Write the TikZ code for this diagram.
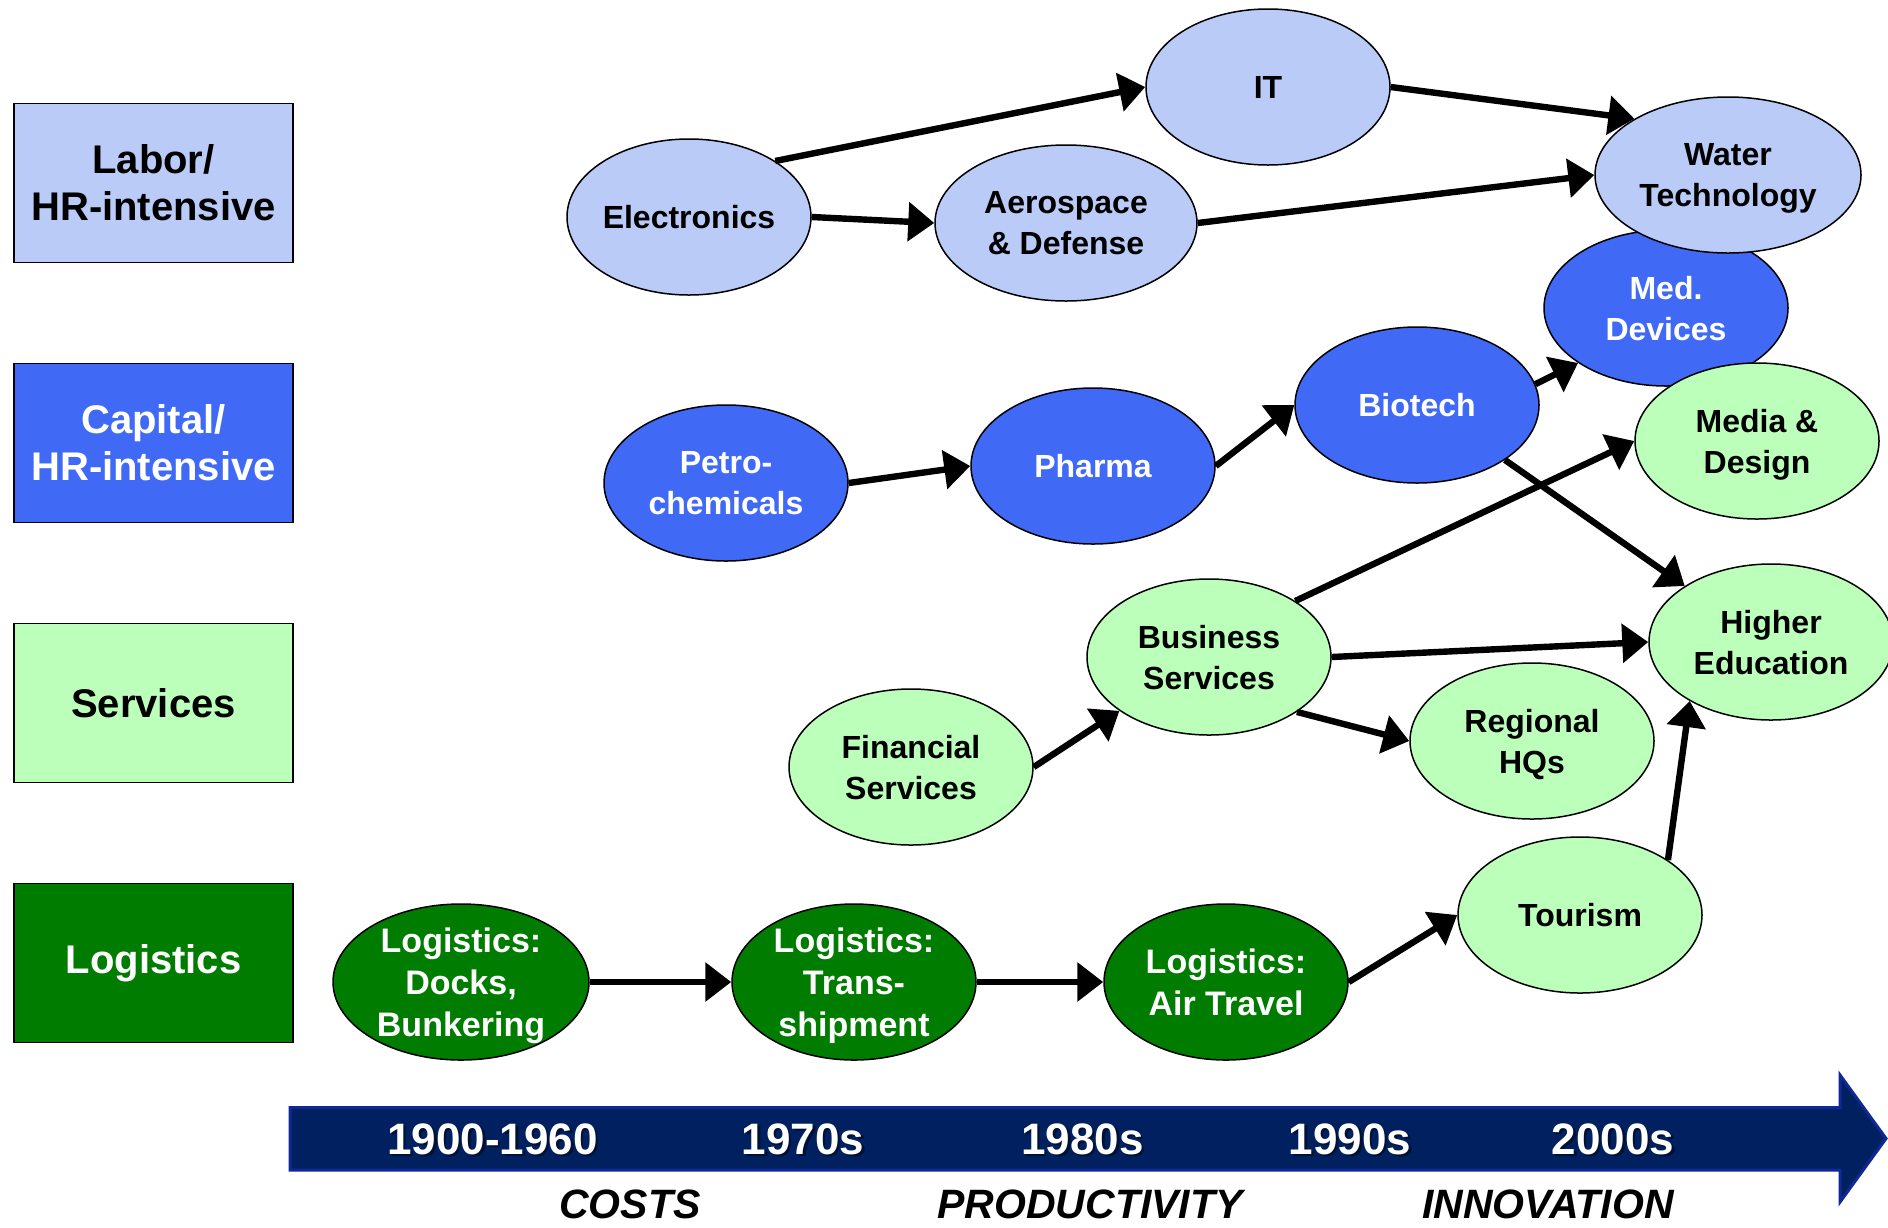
\documentclass[tikz,border=0pt]{standalone}
\usepackage{fontspec}
\setmainfont{Liberation Sans}
\usetikzlibrary{shapes.geometric,arrows.meta}
\definecolor{lblue}{RGB}{185,203,246}
\definecolor{mblue}{RGB}{64,106,246}
\definecolor{lgreen}{RGB}{187,255,187}
\definecolor{dgreen}{RGB}{0,125,0}
\definecolor{navy}{RGB}{0,32,96}
\definecolor{navyedge}{RGB}{16,40,150}
\begin{document}
\begin{tikzpicture}[x=0.5pt,y=-0.5pt,
  cat/.style={draw=black, line width=0.8pt, minimum width=139.5pt, minimum height=79.5pt, inner sep=0pt, font=\bfseries\fontsize{20pt}{23.5pt}\selectfont, align=center},
  el/.style={ellipse, draw=black, line width=0.75pt, minimum width=122pt, minimum height=78pt, inner sep=0pt},
  eltxt/.style={font=\bfseries\fontsize{16pt}{20.5pt}\selectfont, align=center, inner sep=0pt, text depth=0pt},
  logtxt/.style={eltxt, font=\bfseries\fontsize{17pt}{21pt}\selectfont, text=white},
  link/.style={line width=3.2pt, -{Triangle[length=13pt,width=19pt]}},
  year/.style={font=\bfseries\fontsize{22pt}{22pt}\selectfont, text=white, inner sep=0pt},
  yshadow/.style={font=\bfseries\fontsize{22pt}{22pt}\selectfont, text=black, opacity=0.45, inner sep=0pt},
  era/.style={font=\bfseries\itshape\fontsize{20.5pt}{20.5pt}\selectfont, inner sep=0pt}
]
\useasboundingbox (0,0) rectangle (1888,1227);

% category boxes
\node[cat, fill=lblue, text=black] (labor) at (153.5,183) {Labor/\\HR-intensive};
\node[cat, fill=mblue, text=white] (capital) at (153.5,443) {Capital/\\HR-intensive};
\node[cat, fill=lgreen, text=black] (services) at (153.5,703) {Services};
\node[cat, fill=dgreen, text=white] (logistics) at (153.5,963) {Logistics};

% timeline arrow
\draw[fill=navy, draw=navyedge, line width=1.5pt, line join=miter]
  (290,1107.5) -- (1840,1107.5) -- (1840,1075) -- (1886,1138.5) -- (1840,1202) -- (1840,1170) -- (290,1170) -- cycle;

\node[yshadow] (y1s) at (495,1141.5) {1900-1960};
\node[year] (y1) at (492.5,1139) {1900-1960};
\node[yshadow] (y2s) at (805.5,1141.5) {1970s};
\node[year] (y2) at (803,1139) {1970s};
\node[yshadow] (y3s) at (1085,1141.5) {1980s};
\node[year] (y3) at (1082.5,1139) {1980s};
\node[yshadow] (y4s) at (1352.5,1141.5) {1990s};
\node[year] (y4) at (1350,1139) {1990s};
\node[yshadow] (y5s) at (1615.5,1141.5) {2000s};
\node[year] (y5) at (1613,1139) {2000s};

\node[era] (costs) at (630,1204) {COSTS};
\node[era] (prod) at (1090,1204) {PRODUCTIVITY};
\node[era] (innov) at (1548,1204) {INNOVATION};

% ellipses
\node[el, fill=lblue] (it) at (1268,87) {};
\node[eltxt] (itt) at (it) {IT};
\node[el, fill=lblue] (elec) at (689,217) {};
\node[eltxt] (elect) at (elec) {Electronics};
\node[el, fill=lblue, minimum width=131pt] (aero) at (1066,223) {};
\node[eltxt] (aerot) at (aero) {Aerospace\\\& Defense};
\node[el, fill=mblue] (med) at (1666,308) {};
\node[eltxt, text=white] (medt) at (med) {Med.\\Devices};
\node[el, fill=lblue, minimum width=133pt] (water) at (1728,175) {};
\node[eltxt] (watert) at (water) {Water\\Technology};
\node[el, fill=mblue] (biotech) at (1417,405) {};
\node[eltxt, text=white] (biotecht) at (biotech) {Biotech};
\node[el, fill=mblue] (petro) at (726,483) {};
\node[eltxt, text=white] (petrot) at (petro) {Petro-\\chemicals};
\node[el, fill=mblue] (pharma) at (1093,466) {};
\node[eltxt, text=white] (pharmat) at (pharma) {Pharma};
\node[el, fill=lgreen] (media) at (1757,441) {};
\node[eltxt] (mediat) at (media) {Media \&\\Design};
\node[el, fill=lgreen] (highed) at (1771,642) {};
\node[eltxt] (highedt) at (highed) {Higher\\Education};
\node[el, fill=lgreen] (bus) at (1209,657) {};
\node[eltxt] (bust) at (bus) {Business\\Services};
\node[el, fill=lgreen] (reg) at (1532,741) {};
\node[eltxt] (regt) at (reg) {Regional\\HQs};
\node[el, fill=lgreen] (fin) at (911,767) {};
\node[eltxt] (fint) at (fin) {Financial\\Services};
\node[el, fill=lgreen] (tour) at (1580,915) {};
\node[eltxt] (tourt) at (tour) {Tourism};
\node[el, fill=dgreen, minimum width=128pt] (docks) at (461,982) {};
\node[logtxt] (dockst) at (docks) {Logistics:\\Docks,\\Bunkering};
\node[el, fill=dgreen] (trans) at (854,982) {};
\node[logtxt] (transt) at (trans) {Logistics:\\Trans-\\shipment};
\node[el, fill=dgreen] (air) at (1226,982) {};
\node[logtxt] (airt) at (air) {Logistics:\\Air Travel};

% connectors
\draw[link] (elec.33) -- (it.180);
\draw[link] (elec.0) -- (aero.180);
\draw[link] (it.0) -- (water.149);
\draw[link] (aero.0) -- (water.180);
\draw[link] (petro.0) -- (pharma.180);
\draw[link] (pharma.0) -- (biotech.180);
\draw[link] (biotech.10) -- (med.212);
\draw[link] (biotech.328) -- (highed.147);
\draw[link] (bus.33) -- (media.180);
\draw[link] (bus.0) -- (highed.180);
\draw[link] (bus.328) -- (reg.180);
\draw[link] (fin.0) -- (bus.211);
\draw[link] (tour.32) -- (highed.216);
\draw[link] (air.0) -- (tour.180);
\draw[link] (docks.0) -- (trans.180);
\draw[link] (trans.0) -- (air.180);
\end{tikzpicture}
\end{document}
